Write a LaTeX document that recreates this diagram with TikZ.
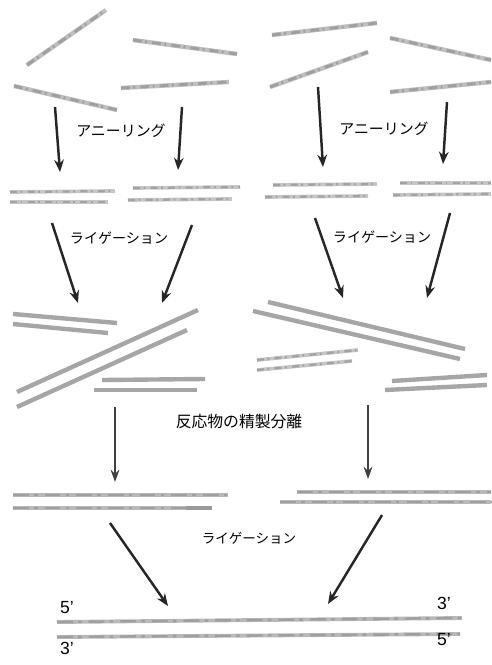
\documentclass[tikz,border=0pt]{standalone}
\usepackage{fontspec}
\setmainfont{Liberation Sans}
\newfontfamily\jfont{Noto Sans CJK JP}
\usetikzlibrary{arrows.meta}

\begin{document}
\begin{tikzpicture}[
        x=0.02cm, y=-0.02cm,
        strand/.style={draw=gray!70, line width=2.5pt},
        frag/.style={draw=gray!50, line width=2.5pt,
            postaction={draw=gray!75, line width=1.6pt, dash pattern=on 5pt off 2pt on 1pt off 3pt}},
        pairfrag/.style={draw=gray!45, line width=2.1pt,
            postaction={draw=gray!72, line width=1.3pt, dash pattern=on 4pt off 2pt on 1pt off 3pt}},
        duplex/.style={draw=gray!55, line width=2.2pt,
            postaction={draw=gray!75, line width=1.4pt, dash pattern=on 9pt off 3pt on 2pt off 4pt}},
        bigarrow/.style={-{Stealth[length=7pt, width=5.5pt]}, line width=1.4pt, black!85},
        smallarrow/.style={-{Stealth[length=7pt, width=5pt]}, line width=0.9pt, black!75},
        stepname/.style={font=\jfont\fontsize{8.5pt}{10pt}\selectfont, inner sep=1pt},
        endmark/.style={font=\fontsize{10pt}{12pt}\selectfont, inner sep=0pt}
    ]
        \useasboundingbox (0,0) rectangle (491,665);

        % Single strands
        \draw[frag] (27,65) -- (106,10);
        \draw[frag] (133,40) -- (237,54);
        \draw[frag] (14,86) -- (117,110);
        \draw[frag] (121,88) -- (229,82);
        \draw[frag] (272,35) -- (377,23);
        \draw[frag] (270,87) -- (368,52);
        \draw[frag] (390,38) -- (491,60);
        \draw[frag] (390,92) -- (491,82);

        % Annealed pairs
        \draw[pairfrag] (10,192) -- (115,191);
        \draw[pairfrag] (10,202) -- (108,202);
        \draw[pairfrag] (133,188) -- (240,187);
        \draw[pairfrag] (128,200) -- (232,199);
        \draw[pairfrag] (273,185) -- (377,184);
        \draw[pairfrag] (265,197) -- (368,196);
        \draw[pairfrag] (400,183) -- (491,183);
        \draw[pairfrag] (393,195) -- (491,194);

        % Ligation products
        \draw[strand] (13,314) -- (117,323);
        \draw[strand] (13,324) -- (108,333);
        \draw[strand] (17,392) -- (198,310);
        \draw[strand] (17,407) -- (187,330);
        \draw[strand] (102,380) -- (205,379);
        \draw[strand] (94,390) -- (197,390);
        \draw[strand] (268,302) -- (465,349);
        \draw[strand] (253,311) -- (460,359);
        \draw[pairfrag] (257,360) -- (358,350);
        \draw[pairfrag] (257,370) -- (352,361);
        \draw[strand] (392,381) -- (487,375);
        \draw[strand] (385,390) -- (487,385);

        % Purified duplexes
        \draw[duplex] (13,495) -- (228,495);
        \draw[duplex] (13,508) -- (186,508);
        \draw[draw=gray!80, line width=2.2pt] (186,508) -- (212,508);
        \draw[duplex] (297,492) -- (491,492);
        \draw[duplex] (280,502) -- (491,502);

        % Final duplex
        \draw[duplex] (57,622) -- (462,618);
        \draw[duplex] (57,637) -- (460,634);
        \node[endmark] (l5) at (67,608) {5'};
        \node[endmark] (l3) at (67,648) {3'};
        \node[endmark] (r3) at (444,603) {3'};
        \node[endmark] (r5) at (444,640) {5'};

        % Step labels
        \node[stepname] (ann1) at (121,131) {アニーリング};
        \node[stepname] (ann2) at (384,129) {アニーリング};
        \node[stepname, font=\jfont\fontsize{8pt}{9pt}\selectfont] (lig1) at (119,238) {ライゲーション};
        \node[stepname, font=\jfont\fontsize{8pt}{9pt}\selectfont] (lig2) at (382,237) {ライゲーション};
        \node[stepname, font=\jfont\fontsize{9pt}{11pt}\selectfont] (pur) at (239,422) {反応物の精製分離};
        \node[stepname, font=\jfont\fontsize{7.7pt}{9pt}\selectfont] (lig3) at (249,538) {ライゲーション};

        % Arrow ends
        \coordinate (a1s) at (55,107);  \coordinate (a1e) at (60,172);
        \coordinate (a2s) at (182,107); \coordinate (a2e) at (178,170);
        \coordinate (a3s) at (318,87);  \coordinate (a3e) at (323,167);
        \coordinate (a4s) at (447,102); \coordinate (a4e) at (443,164);
        \coordinate (b1s) at (52,223);  \coordinate (b1e) at (78,303);
        \coordinate (b2s) at (192,225); \coordinate (b2e) at (162,303);
        \coordinate (b3s) at (315,218); \coordinate (b3e) at (343,298);
        \coordinate (b4s) at (450,213); \coordinate (b4e) at (427,298);
        \coordinate (c1s) at (115,407); \coordinate (c1e) at (115,482);
        \coordinate (c2s) at (368,405); \coordinate (c2e) at (368,479);
        \coordinate (d1s) at (110,523); \coordinate (d1e) at (168,606);
        \coordinate (d2s) at (382,515); \coordinate (d2e) at (328,604);

        % Arrows
        \draw[bigarrow] (a1s) -- (a1e);
        \draw[bigarrow] (a2s) -- (a2e);
        \draw[bigarrow] (a3s) -- (a3e);
        \draw[bigarrow] (a4s) -- (a4e);
        \draw[bigarrow] (b1s) -- (b1e);
        \draw[bigarrow] (b2s) -- (b2e);
        \draw[bigarrow] (b3s) -- (b3e);
        \draw[bigarrow] (b4s) -- (b4e);
        \draw[smallarrow] (c1s) -- (c1e);
        \draw[smallarrow] (c2s) -- (c2e);
        \draw[bigarrow] (d1s) -- (d1e);
        \draw[bigarrow] (d2s) -- (d2e);
    \end{tikzpicture}
\end{document}
